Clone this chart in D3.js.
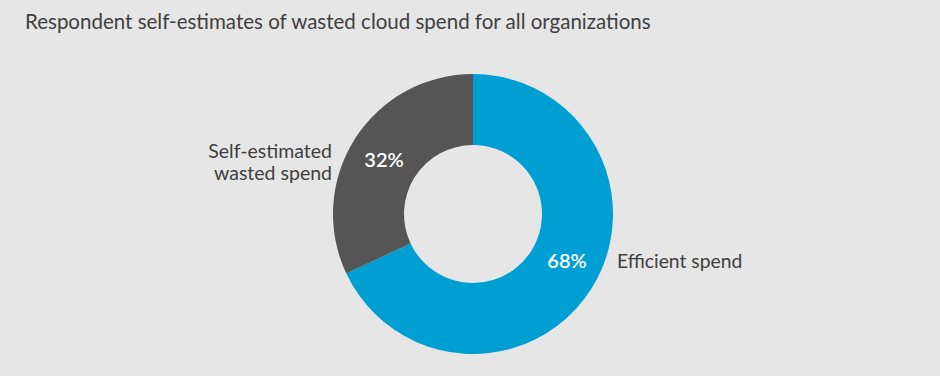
<!DOCTYPE html>
<html><head><meta charset="utf-8">
<script src="https://cdn.jsdelivr.net/npm/d3@7"></script>
<style>html,body{margin:0;padding:0;background:#e6e6e6;}svg{display:block;}</style>
</head><body>
<script>
const categories = ["Efficient spend", "Self-estimated wasted spend"];
const values = [68, 32];
const valueLabels = ["68%", "32%"];
const colors = ["#009fd3", "#555555"];

const W = 940, H = 376;
const svg = d3.select("body").append("svg").attr("width", W).attr("height", H);
svg.append("rect").attr("width", W).attr("height", H).attr("fill", "#e6e6e6");

const font = "Lato, 'Open Sans', sans-serif";
svg.append("text").attr("x", 25).attr("y", 29)
  .attr("font-family", font).attr("font-size", 20.5).attr("fill", "#404040")
  .text("Respondent self-estimates of wasted cloud spend for all organizations");

const cx = 473, cy = 214, rOuter = 140, rInner = 69;
const g = svg.append("g").attr("transform", `translate(${cx},${cy})`);
const pie = d3.pie().sort(null).value(d => d)(values);
const arc = d3.arc().innerRadius(rInner).outerRadius(rOuter);
g.selectAll("path").data(pie).join("path").attr("d", arc).attr("fill", (d, i) => colors[i]);

// value labels
const labelPos = [[94, 47], [-89, -54]];
g.selectAll("text.val").data(pie).join("text").attr("class", "val")
  .attr("x", (d, i) => labelPos[i][0]).attr("y", (d, i) => labelPos[i][1])
  .attr("text-anchor", "middle").attr("dy", "0.35em")
  .attr("font-family", font).attr("font-size", 20).attr("font-weight", 600).attr("fill", "#fff")
  .text((d, i) => valueLabels[i]);

// category labels
g.append("text").attr("x", rOuter + 4).attr("y", 47).attr("dy", "0.35em")
  .attr("font-family", font).attr("font-size", 19.3).attr("fill", "#404040")
  .text(categories[0]);
const t = g.append("text").attr("x", -rOuter - 1).attr("y", -56)
  .attr("text-anchor", "end")
  .attr("font-family", font).attr("font-size", 19.5).attr("fill", "#404040");
t.append("tspan").attr("x", -rOuter - 1).text("Self-estimated");
t.append("tspan").attr("x", -rOuter - 1).attr("dy", 22).text("wasted spend");
</script>
</body></html>
